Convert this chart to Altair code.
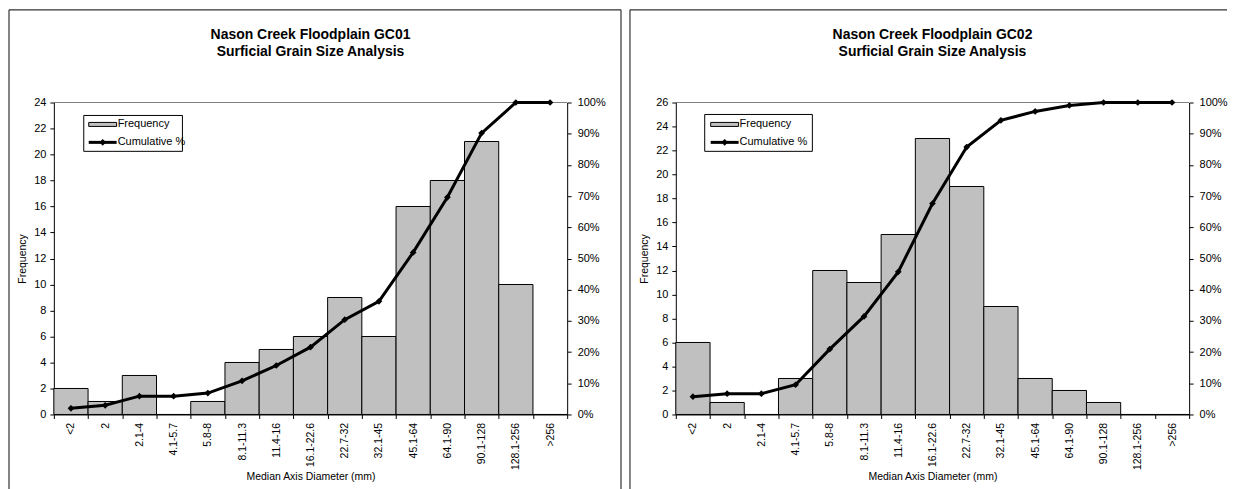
import altair as alt
import pandas as pd

categories = ["<2", "2", "2.1-4", "4.1-5.7", "5.8-8", "8.1-11.3", "11.4-16",
              "16.1-22.6", "22.7-32", "32.1-45", "45.1-64", "64.1-90",
              "90.1-128", "128.1-256", ">256"]

freq_gc01 = [2, 1, 3, 0, 1, 4, 5, 6, 9, 6, 16, 18, 21, 10, 0]
cum_gc01 = [1.96, 2.94, 5.88, 5.88, 6.86, 10.78, 15.69, 21.57, 30.39, 36.27,
            51.96, 69.61, 90.20, 100.0, 100.0]

freq_gc02 = [6, 1, 0, 3, 12, 11, 15, 23, 19, 9, 3, 2, 1, 0, 0]
cum_gc02 = [5.71, 6.67, 6.67, 9.52, 20.95, 31.43, 45.71, 67.62, 85.71, 94.29,
            97.14, 99.05, 100.0, 100.0, 100.0]

titles_gc01 = ["Nason Creek Floodplain  GC01", "Surficial Grain Size Analysis"]
titles_gc02 = ["Nason Creek Floodplain  GC02", "Surficial Grain Size Analysis"]

FONT = "Liberation Sans"
W, H = 515, 313
one = pd.DataFrame({"k": [0]})


def panel(freq, cum, ymax, title, legend_x, legend_x2, legend_y, border_left, border_right, right_border=True):
    df = pd.DataFrame({"cat": categories, "freq": freq, "cum": cum})
    xenc = alt.X("cat:N", sort=categories,
                 scale=alt.Scale(paddingInner=0, paddingOuter=0),
                 axis=alt.Axis(title="Median Axis Diameter (mm)", labelAngle=-90,
                               tickBand="extent", tickSize=4, labelPadding=4,
                               titlePadding=2, labelFontSize=10.5, titleFontSize=10.5,
                               grid=False, titleFontWeight="normal"))
    base = alt.Chart(df)

    top_rule = alt.Chart(one).mark_rule(color="#808080", strokeWidth=1).encode(
        x=alt.value(0), x2=alt.value(W), y=alt.value(0))

    bars = base.mark_bar(fill="#C0C0C0", stroke="black", strokeWidth=1).encode(
        x=xenc,
        y=alt.Y("freq:Q", scale=alt.Scale(domain=[0, ymax], nice=False),
                axis=alt.Axis(title="Frequency", values=list(range(0, ymax + 1, 2)),
                              tickSize=4, labelPadding=4, titlePadding=6,
                              labelFontSize=11, titleFontSize=10.5, grid=False,
                              titleFontWeight="normal")))

    line = base.mark_line(color="black", strokeWidth=3,
                          point=alt.OverlayMarkDef(shape="diamond", size=45,
                                                   fill="black", filled=True)).encode(
        x=xenc,
        y=alt.Y("cum:Q", scale=alt.Scale(domain=[0, 100], nice=False),
                axis=alt.Axis(orient="right", title=None,
                              values=list(range(0, 101, 10)),
                              labelExpr="datum.value + '%'", grid=False,
                              tickSize=4, labelPadding=6, labelFontSize=11)))

    t1 = alt.Chart(one).mark_text(text=title[0], align="center", baseline="middle",
                                  fontSize=14, font=FONT, fontWeight="bold",
                                  color="black").encode(
        x=alt.value(W / 2), y=alt.value(-68))
    t2 = alt.Chart(one).mark_text(text=title[1], align="center", baseline="middle",
                                  fontSize=14, font=FONT, fontWeight="bold",
                                  color="black").encode(
        x=alt.value(W / 2), y=alt.value(-51))

    leg_box = alt.Chart(one).mark_rect(fill="white", stroke="black", strokeWidth=1).encode(
        x=alt.value(legend_x), x2=alt.value(legend_x2),
        y=alt.value(legend_y), y2=alt.value(49))
    leg_sym = alt.Chart(one).mark_rect(fill="#C0C0C0", stroke="black", strokeWidth=1).encode(
        x=alt.value(35), x2=alt.value(63), y=alt.value(20), y2=alt.value(24))
    leg_line = alt.Chart(one).mark_rule(color="black", strokeWidth=3).encode(
        x=alt.value(35), x2=alt.value(63), y=alt.value(40))
    leg_pt = alt.Chart(one).mark_point(shape="diamond", size=45, filled=True,
                                       color="black", opacity=1).encode(
        x=alt.value(49), y=alt.value(40))
    leg_t1 = alt.Chart(one).mark_text(text="Frequency", align="left", baseline="middle",
                                      fontSize=11, font=FONT, color="black").encode(
        x=alt.value(64), y=alt.value(22))
    leg_t2 = alt.Chart(one).mark_text(text="Cumulative %", align="left", baseline="middle",
                                      fontSize=11, font=FONT, color="black").encode(
        x=alt.value(64), y=alt.value(40))

    b_left = alt.Chart(one).mark_rule(color="#333333", strokeWidth=1.2).encode(
        x=alt.value(border_left), y=alt.value(-93), y2=alt.value(400))
    b_top = alt.Chart(one).mark_rule(color="#333333", strokeWidth=1.2).encode(
        x=alt.value(border_left), x2=alt.value(border_right), y=alt.value(-93))
    layers = [b_left, b_top]
    if right_border:
        b_right = alt.Chart(one).mark_rule(color="#333333", strokeWidth=1.2).encode(
            x=alt.value(border_right), y=alt.value(-93), y2=alt.value(400))
        layers.append(b_right)

    chart = alt.layer(*layers, t1, t2, top_rule, bars, line, leg_box, leg_sym, leg_line,
                      leg_pt, leg_t1, leg_t2).resolve_scale(y="independent").properties(
        width=W, height=H)
    return chart


left = panel(freq_gc01, cum_gc01, 24, titles_gc01, 30, 129, 13, -45, 569)
right = panel(freq_gc02, cum_gc02, 26, titles_gc02, 29, 137, 12, -46, 553, right_border=False)

chart = alt.hconcat(left, right, spacing=7).properties(
    padding={"left": 0, "top": 0, "right": 0, "bottom": 0},
    background="white"
).configure_view(strokeWidth=0).configure_axis(
    domainColor="black", tickColor="black", labelColor="black", titleColor="black",
    labelFont=FONT, titleFont=FONT, titleFontWeight="normal", grid=False,
    domainWidth=1, tickWidth=1
)

chart.save("out.html", embed_options={"renderer": "svg", "actions": False})
